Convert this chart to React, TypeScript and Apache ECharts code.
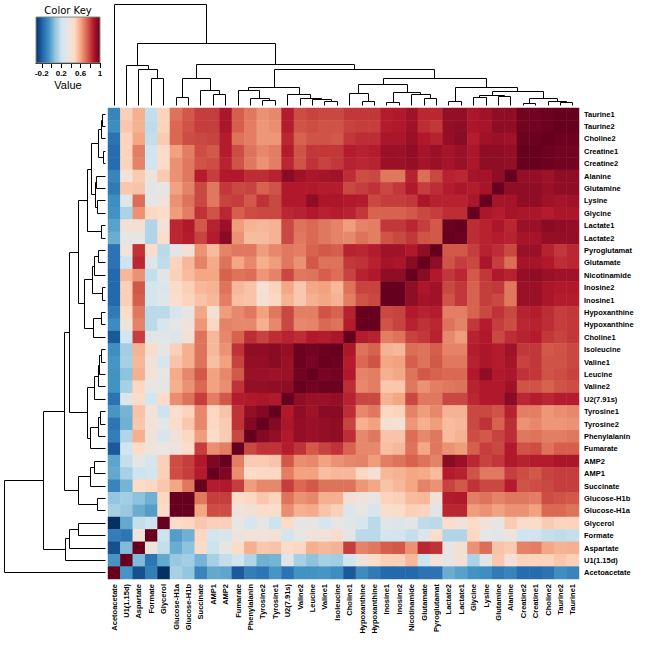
import React, { useEffect, useRef } from "react";
import * as echarts from "echarts";

const columnLabels = ["Acetoacetate","U1(1.15d)","Aspartate","Formate","Glycerol","Glucose-H1a","Glucose-H1b","Succinate","AMP1","AMP2","Fumarate","Phenylalanin","Tyrosine2","Tyrosine1","U2(7.91s)","Valine2","Leucine","Valine1","Isoleucine","Choline1","Hypoxanthine","Hypoxanthine","Inosine1","Inosine2","Nicotinamide","Glutamate","Pyroglutamat","Lactate2","Lactate1","Glycine","Lysine","Glutamine","Alanine","Creatine2","Creatine1","Choline2","Taurine2","Taurine1"];
const rowLabels = [...columnLabels].reverse();

// Correlations: one row per label from the top, up to the diagonal (the matrix is symmetric).
const correlationRows: number[][] = [
[-.1,.5,.58,.18,.49,.7,.75,.8,.8,.88,.74,.69,.64,.66,.86,.77,.79,.78,.78,.81,.81,.81,.86,.87,.9,.84,.84,.92,.92,.88,.9,.93,.93,.98,.98,.99,1,1],
[-.07,.52,.57,.17,.49,.72,.76,.8,.8,.88,.74,.68,.63,.65,.86,.76,.77,.76,.76,.79,.8,.8,.86,.87,.9,.83,.81,.92,.93,.88,.89,.93,.93,.98,.98,.99,1],
[-.15,.49,.6,.18,.51,.72,.77,.78,.79,.86,.7,.68,.63,.63,.84,.73,.76,.76,.75,.81,.83,.83,.88,.88,.91,.87,.85,.92,.94,.86,.9,.91,.9,.99,.99,1],
[-.17,.49,.68,.21,.46,.61,.68,.77,.75,.86,.77,.7,.66,.68,.86,.76,.81,.81,.81,.86,.85,.86,.91,.91,.93,.89,.91,.89,.91,.88,.93,.93,.92,1,1],
[-.17,.49,.67,.21,.46,.64,.69,.76,.77,.85,.76,.69,.64,.68,.84,.76,.82,.79,.81,.85,.84,.85,.91,.91,.92,.89,.91,.89,.91,.88,.93,.93,.92,1],
[-.1,.39,.51,.37,.51,.64,.69,.86,.8,.87,.87,.83,.83,.85,.94,.9,.88,.89,.9,.83,.77,.78,.69,.69,.85,.71,.78,.85,.84,.89,.89,.93,1],
[-.13,.52,.53,.3,.33,.61,.67,.78,.69,.81,.78,.79,.73,.76,.87,.87,.87,.86,.86,.78,.8,.82,.78,.81,.87,.8,.83,.86,.88,.86,.89,1],
[-.07,.3,.71,.31,.39,.64,.7,.78,.69,.79,.8,.75,.82,.78,.87,.87,.93,.88,.88,.87,.86,.78,.8,.8,.81,.88,.85,.85,.85,.88,1],
[-.06,.13,.64,.48,.46,.62,.68,.82,.76,.84,.74,.77,.78,.78,.84,.85,.87,.85,.86,.85,.81,.73,.73,.73,.75,.78,.8,.83,.83,1],
[-.02,.4,.42,.14,.39,.84,.87,.75,.85,.91,.62,.57,.56,.57,.78,.7,.72,.69,.67,.62,.67,.68,.81,.81,.84,.8,.75,.99,1],
[.01,.33,.33,.14,.45,.84,.86,.79,.86,.94,.64,.55,.55,.57,.78,.69,.72,.69,.67,.66,.7,.68,.76,.78,.81,.76,.75,1],
[-.15,.39,.82,.45,.16,.3,.4,.64,.55,.67,.69,.69,.62,.66,.69,.68,.73,.75,.74,.85,.84,.86,.9,.9,.87,.93,1],
[-.15,.2,.84,.28,.17,.49,.56,.67,.59,.7,.6,.66,.58,.62,.69,.64,.75,.7,.7,.81,.82,.85,.89,.88,.94,1],
[-.18,.56,.64,.18,.3,.5,.55,.6,.6,.73,.7,.71,.63,.67,.78,.69,.7,.74,.71,.79,.85,.87,.93,.93,1],
[-.18,.5,.75,.22,.27,.46,.5,.56,.57,.7,.56,.53,.41,.49,.6,.52,.6,.61,.56,.7,.79,.79,1,1],
[-.18,.5,.74,.23,.29,.45,.49,.53,.56,.68,.54,.53,.42,.48,.57,.52,.58,.6,.57,.68,.76,.78,1],
[-.13,.46,.69,.16,.16,.25,.33,.6,.42,.62,.66,.69,.61,.69,.78,.68,.68,.76,.73,.85,1,1],
[-.08,.38,.67,.16,.24,.32,.38,.63,.48,.67,.66,.66,.58,.66,.78,.66,.67,.72,.7,.86,1],
[-.22,.22,.8,.3,.3,.27,.4,.7,.56,.66,.73,.83,.79,.83,.85,.83,.87,.86,.88,1],
[-.07,.11,.57,.44,.33,.5,.58,.7,.56,.64,.82,.93,.93,.94,.92,.99,.98,.99,1],
[-.05,.12,.56,.39,.24,.53,.58,.7,.54,.61,.79,.92,.92,.94,.91,.99,.97,1],
[-.06,.07,.58,.39,.33,.59,.66,.75,.61,.66,.75,.91,.91,.9,.91,.98,1],
[-.06,.12,.48,.33,.33,.58,.64,.72,.61,.65,.82,.92,.92,.93,.93,1],
[-.15,.28,.46,.22,.47,.65,.7,.8,.68,.75,.86,.87,.88,.87,1],
[-.05,.03,.53,.41,.2,.45,.49,.66,.48,.53,.82,.92,.95,1],
[-.14,.02,.52,.39,.31,.46,.52,.66,.48,.51,.82,.95,1],
[-.12,.14,.58,.39,.25,.4,.48,.62,.46,.51,.78,1],
[-.22,.21,.46,.37,.34,.37,.46,.8,.65,.68,1],
[-.01,.18,.32,.24,.5,.77,.8,.87,.96,1],
[0,.12,.2,.22,.5,.77,.8,.86,1],
[-.1,.03,.46,.48,.52,.6,.69,1],
[.08,.11,.07,.02,.48,1,1],
[.12,.09,.01,-.03,.46,1],
[-.32,0,.18,.2,1],
[-.12,-.14,.37,1],
[-.24,.05,1],
[-.05,1],
[1],
];

// Clustering: [left child, right child, height]. A child >= 0 is a column index, a child < 0 is merge number -(child + 1).
const merges: [number, number, number][] = [
[3,4,26.7],[2,-1,35.7],[1,-2,39.7],[5,6,7.7],[8,9,10.7],[7,-5,14.7],[-4,-6,26.7],
[12,13,4.7],[11,-8,6.7],[10,-9,14.7],[17,18,3.7],[16,-11,5.7],[15,-12,6.5],[14,-13,10.7],[-10,-14,17.7],
[20,21,3.7],[19,-16,11.7],[22,23,2.7],[25,26,6.7],[24,-19,10.7],[-18,-20,12.7],[-17,-21,20.7],
[27,28,3.7],[29,30,7.7],[31,32,8.7],[-24,-25,9.7],[33,34,1.7],[36,37,2.7],[35,-28,3.7],[-27,-29,6.7],[-26,-30,13.7],[-23,-31,17.7],
[-22,-32,26.7],[-15,-33,35.3],[-7,-34,40.7],[-3,-35,61.7],[0,-36,100.7],
];

const colorKeyTicks = [-0.2, 0, 0.2, 0.4, 0.6, 0.8, 1];
const colorKeyLabels = [-0.2, 0.2, 0.6, 1];
const colorStops = ["#053061","#2166ac","#4393c3","#92c5de","#d1e5f0","#e9e5e2","#fddbc7","#f4a582","#d6604d","#b2182b","#67001f"];
const valueMin = -0.32;
const valueMax = 1;

const n = columnLabels.length;
const cellValue = (r: number, c: number) =>
  c <= n - 1 - r ? correlationRows[r][c] : correlationRows[n - 1 - c][n - 1 - r];

const heatData: number[][] = [];
for (let r = 0; r < n; r++) for (let c = 0; c < n; c++) heatData.push([c, r, cellValue(r, c)]);

// each link: [left pos, left height, right pos, right height, merge height]
const nodePos: number[] = [];
const nodeHeight: number[] = [];
const place = (child: number) =>
  child >= 0 ? [child + 0.5, 0] : [nodePos[-child - 1], nodeHeight[-child - 1]];
const links = merges.map(([a, b, h], i) => {
  const [ap, ah] = place(a);
  const [bp, bh] = place(b);
  nodePos[i] = (ap + bp) / 2;
  nodeHeight[i] = h;
  return [ap, ah, bp, bh, h];
});

const snap = (v: number) => Math.round(v - 0.5) + 0.5;
const linkStyle = { stroke: "#000", lineWidth: 1, fill: "none" };

const topDendro = (_: any, api: any) => {
  const pt = (p: number, h: number) => {
    const [x, y] = api.coord([p, h]);
    return [snap(x), snap(y)];
  };
  return {
    type: "polyline",
    shape: {
      points: [pt(api.value(0), api.value(1)), pt(api.value(0), api.value(4)), pt(api.value(2), api.value(4)), pt(api.value(2), api.value(3))],
    },
    style: linkStyle,
  };
};
const leftDendro = (_: any, api: any) => {
  const pt = (p: number, h: number) => {
    const [x, y] = api.coord([h, p]);
    return [snap(x), snap(y)];
  };
  return {
    type: "polyline",
    shape: {
      points: [pt(api.value(0), api.value(1)), pt(api.value(0), api.value(4)), pt(api.value(2), api.value(4)), pt(api.value(2), api.value(3))],
    },
    style: linkStyle,
  };
};

const hiddenAxis = { show: false, type: "value" as const };

export default function App() {
  const ref = useRef<HTMLDivElement>(null);
  useEffect(() => {
    document.body.style.margin = "0";
    const chart = echarts.init(ref.current!, undefined, { renderer: "svg" });
    const labelFont = { fontFamily: "Liberation Sans", fontSize: 7.5, fontWeight: "bold" as const, color: "#000" };
    chart.setOption({
      animation: false,
      backgroundColor: "#fff",
      grid: [
        { left: 108, top: 108, width: 471, height: 471 },
        { left: 108, top: 0, width: 471, height: 105 },
        { left: 0, top: 108, width: 105, height: 471 },
        { left: 36, top: 17, width: 64, height: 46 },
      ],
      xAxis: [
        {
          gridIndex: 0, type: "category", data: columnLabels, position: "bottom",
          axisLine: { show: false }, axisTick: { show: false }, splitLine: { show: false },
          axisLabel: { ...labelFont, rotate: 90, interval: 0, margin: 5 },
        },
        { ...hiddenAxis, gridIndex: 1, min: 0, max: n },
        { ...hiddenAxis, gridIndex: 2, min: 0, max: 105, inverse: true },
        {
          gridIndex: 3, type: "value", min: valueMin, max: valueMax, position: "bottom",
          splitLine: { show: false },
          axisLine: { show: true, lineStyle: { color: "#000", width: 1 } },
          axisTick: { show: true, length: 5, lineStyle: { color: "#000" }, customValues: colorKeyTicks },
          axisLabel: { ...labelFont, fontSize: 8, margin: 6, customValues: colorKeyLabels, showMinLabel: true, showMaxLabel: true, hideOverlap: false },
        },
      ],
      yAxis: [
        {
          gridIndex: 0, type: "category", data: rowLabels, inverse: true, position: "right",
          axisLine: { show: false }, axisTick: { show: false }, splitLine: { show: false },
          axisLabel: { ...labelFont, interval: 0, margin: 5 },
        },
        { ...hiddenAxis, gridIndex: 1, min: 0, max: 105 },
        { ...hiddenAxis, gridIndex: 2, min: 0, max: n },
        { ...hiddenAxis, gridIndex: 3, min: 0, max: 1 },
      ],
      visualMap: {
        show: false, type: "continuous", seriesIndex: 0, min: valueMin, max: valueMax,
        inRange: { color: colorStops },
      },
      series: [
        { type: "heatmap", xAxisIndex: 0, yAxisIndex: 0, data: heatData, progressive: 0, itemStyle: { borderWidth: 0 }, emphasis: { disabled: true } },
        { type: "custom", xAxisIndex: 1, yAxisIndex: 1, data: links, renderItem: topDendro, silent: true },
        { type: "custom", xAxisIndex: 2, yAxisIndex: 2, data: links, renderItem: leftDendro, silent: true },
        {
          type: "custom", xAxisIndex: 3, yAxisIndex: 3, data: [[valueMin, valueMax]], silent: true,
          renderItem: (_: any, api: any) => {
            const [x0, y0] = api.coord([api.value(0), 1]);
            const [x1, y1] = api.coord([api.value(1), 0]);
            return {
              type: "rect",
              shape: { x: x0, y: y0, width: x1 - x0, height: y1 - y0 },
              style: {
                stroke: "#888", lineWidth: 1,
                fill: new echarts.graphic.LinearGradient(0, 0, 1, 0,
                  colorStops.map((color, i) => ({ offset: i / (colorStops.length - 1), color }))),
              },
            };
          },
        },
      ],
      graphic: [
        { type: "text", x: 68, y: 10, style: { text: "Color Key", fill: "#000", font: "10px 'DejaVu Sans'", align: "center", verticalAlign: "middle" } },
        { type: "text", x: 68, y: 85, style: { text: "Value", fill: "#000", font: "11px 'Liberation Sans'", align: "center", verticalAlign: "middle" } },
      ],
    });
    return () => chart.dispose();
  }, []);
  return <div ref={ref} style={{ position: "absolute", left: 0, top: 0, width: 648, height: 648 }} />;
}
